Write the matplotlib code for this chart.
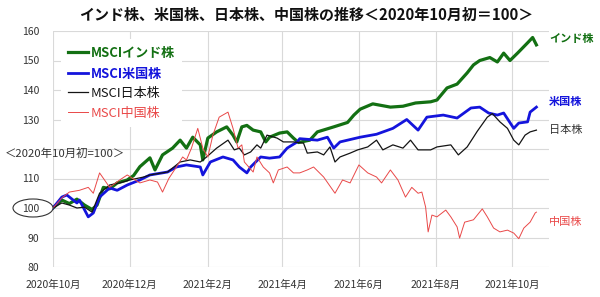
import matplotlib
matplotlib.use("Agg")
import matplotlib.pyplot as plt
from matplotlib.patches import Ellipse
import pandas as pd

plt.rcParams['font.family'] = ['Noto Sans CJK JP', 'DejaVu Sans']

# MSCI indices rebased to 100 at the start of Oct 2020
india_dates = ["2020-10-01", "2020-10-08", "2020-10-14", "2020-10-20", "2020-10-26", "2020-11-01",
               "2020-11-05", "2020-11-10", "2020-11-15", "2020-11-21", "2020-11-29", "2020-12-04",
               "2020-12-09", "2020-12-17", "2020-12-21", "2020-12-27", "2021-01-04", "2021-01-10",
               "2021-01-15", "2021-01-20", "2021-01-26", "2021-01-28", "2021-02-01", "2021-02-08",
               "2021-02-16", "2021-02-21", "2021-02-24", "2021-02-28", "2021-03-04", "2021-03-09",
               "2021-03-15", "2021-03-19", "2021-03-22", "2021-03-30", "2021-04-05", "2021-04-10",
               "2021-04-14", "2021-04-23", "2021-04-29", "2021-05-12", "2021-05-23", "2021-05-28",
               "2021-06-02", "2021-06-12", "2021-06-26", "2021-07-06", "2021-07-16", "2021-07-28",
               "2021-08-02", "2021-08-10", "2021-08-18", "2021-08-26", "2021-08-31", "2021-09-05",
               "2021-09-13", "2021-09-19", "2021-09-24", "2021-09-29", "2021-10-05", "2021-10-13",
               "2021-10-17", "2021-10-20"]
india = [100, 102.7, 101.5, 103, 101, 99.5,
         101, 107, 106.5, 108.5, 109.5, 111,
         114, 117, 112.9, 118, 120.3, 123,
         120.3, 124, 121.4, 116.3, 123.7, 125.8,
         127.5, 124.7, 122.4, 127.5, 128, 126.4,
         125.8, 122.4, 124, 125.4, 125.8, 123.7,
         122.2, 123, 125.8, 127.5, 129, 131.5,
         133.5, 135.3, 134.2, 134.5, 135.6, 136,
         136.6, 140.7, 142, 145.8, 148.5, 150,
         151, 149.5, 152.5, 150, 152.5, 156,
         157.8, 155.3]

us_dates = ["2020-10-01", "2020-10-08", "2020-10-12", "2020-10-20", "2020-10-22", "2020-10-29",
            "2020-11-02", "2020-11-07", "2020-11-15", "2020-11-21", "2020-11-29", "2020-12-09",
            "2020-12-17", "2020-12-31", "2021-01-07", "2021-01-15", "2021-01-26", "2021-01-28",
            "2021-02-03", "2021-02-13", "2021-02-21", "2021-02-26", "2021-03-04", "2021-03-07",
            "2021-03-15", "2021-03-22", "2021-03-30", "2021-04-05", "2021-04-13", "2021-04-15",
            "2021-04-29", "2021-05-07", "2021-05-12", "2021-05-17", "2021-06-02", "2021-06-15",
            "2021-06-28", "2021-07-09", "2021-07-18", "2021-07-25", "2021-08-07", "2021-08-18",
            "2021-08-29", "2021-09-05", "2021-09-12", "2021-09-19", "2021-09-24", "2021-10-02",
            "2021-10-06", "2021-10-13", "2021-10-15", "2021-10-20"]
us = [100, 103.7, 104.4, 101.7, 102.7, 97,
      98.3, 103.7, 106.8, 106, 107.8, 109.5,
      111.2, 112.2, 113.9, 114.6, 113.9, 111.2,
      115.6, 117.3, 116.3, 113.9, 111.9, 113.9,
      117.3, 116.9, 117.3, 120.3, 122.4, 123.5,
      123, 124, 120.3, 122.4, 124, 125,
      127, 130, 126.4, 130.8, 131.5, 130.5,
      133.9, 134.2, 132.2, 131.5, 132.2, 127,
      128.8, 129.2, 132.5, 134.2]

japan_dates = ["2020-10-01", "2020-10-08", "2020-10-14", "2020-10-20", "2020-10-26", "2020-11-01",
               "2020-11-07", "2020-11-15", "2020-11-23", "2020-12-01", "2020-12-12", "2020-12-17",
               "2020-12-31", "2021-01-10", "2021-01-18", "2021-01-26", "2021-01-31", "2021-02-08",
               "2021-02-17", "2021-02-22", "2021-02-26", "2021-03-02", "2021-03-07", "2021-03-12",
               "2021-03-15", "2021-03-20", "2021-03-28", "2021-04-02", "2021-04-10", "2021-04-18",
               "2021-04-21", "2021-04-29", "2021-05-04", "2021-05-09", "2021-05-13", "2021-05-17",
               "2021-05-25", "2021-05-31", "2021-06-08", "2021-06-15", "2021-06-20", "2021-06-28",
               "2021-07-06", "2021-07-12", "2021-07-18", "2021-07-28", "2021-08-02", "2021-08-13",
               "2021-08-19", "2021-08-26", "2021-08-31", "2021-09-03", "2021-09-11", "2021-09-15",
               "2021-09-21", "2021-09-27", "2021-10-02", "2021-10-06", "2021-10-11", "2021-10-15",
               "2021-10-20"]
japan = [100, 101.7, 101, 100, 100.3, 98.6,
         105, 107.8, 108.5, 109.5, 110.5, 111.2,
         112.2, 115.6, 116.3, 115.6, 117.3, 120.3,
         123, 119.7, 120.3, 118, 119, 121.4,
         120.3, 124.7, 123.7, 122.4, 122.4, 122,
         118.6, 119, 118, 120.7, 115.6, 117.3,
         118.6, 119.7, 120.7, 123, 119.7, 121.4,
         120.3, 123, 119.7, 119.7, 120.7, 121.4,
         118, 120.7, 124, 126, 130.8, 132,
         129.2, 127, 123, 121.4, 124.7, 125.8,
         126.4]

china_dates = ["2020-10-01", "2020-10-08", "2020-10-14", "2020-10-22", "2020-10-29", "2020-11-02",
               "2020-11-07", "2020-11-15", "2020-11-23", "2020-11-29", "2020-12-09", "2020-12-17",
               "2020-12-23", "2020-12-27", "2021-01-01", "2021-01-07", "2021-01-12", "2021-01-15",
               "2021-01-19", "2021-01-24", "2021-01-28", "2021-02-01", "2021-02-05", "2021-02-10",
               "2021-02-17", "2021-02-21", "2021-02-25", "2021-02-28", "2021-03-02", "2021-03-09",
               "2021-03-12", "2021-03-17", "2021-03-22", "2021-03-25", "2021-03-29", "2021-04-05",
               "2021-04-10", "2021-04-15", "2021-04-21", "2021-04-26", "2021-05-04", "2021-05-13",
               "2021-05-19", "2021-05-25", "2021-06-01", "2021-06-08", "2021-06-15", "2021-06-19",
               "2021-06-26", "2021-07-02", "2021-07-08", "2021-07-13", "2021-07-18", "2021-07-21",
               "2021-07-24", "2021-07-26", "2021-07-29", "2021-08-02", "2021-08-09", "2021-08-13",
               "2021-08-18", "2021-08-20", "2021-08-24", "2021-08-31", "2021-09-07", "2021-09-11",
               "2021-09-16", "2021-09-21", "2021-09-27", "2021-10-02", "2021-10-06", "2021-10-10",
               "2021-10-15", "2021-10-19", "2021-10-20"]
china = [100, 103.4, 105.4, 106, 107, 105,
         111.9, 107, 109.5, 111.2, 108.5, 109.5,
         108.8, 105.4, 110, 113.9, 117.3, 116.3,
         120.3, 127, 120.3, 117.3, 124.7, 130.8,
         132.5, 127, 120.3, 121.4, 115.6, 112.2,
         117.3, 113.9, 111.9, 108.5, 112.9, 113.9,
         111.9, 111.9, 112.9, 113.9, 110.5, 105,
         109.5, 108.5, 114.6, 111.9, 110.5, 108.5,
         112.9, 109.5, 103.7, 107, 105, 105.4,
         100.3, 91.9, 97.6, 97, 99.3, 97,
         93.6, 89.8, 95.2, 96, 99.7, 97,
         93.2, 91.9, 92.5, 91.5, 89.6, 93.2,
         95.2, 98.3, 98.6]

y_ticks = [80, 90, 100, 110, 120, 130, 140, 150, 160]
# the 120 label is replaced by the base-date note in the original
y_tick_labels = ["80", "90", "100", "110", "", "130", "140", "150", "160"]
x_ticks = ["2020-10-01", "2020-12-01", "2021-02-01", "2021-04-01", "2021-06-01", "2021-08-01", "2021-10-01"]
x_tick_labels = ["2020年10月", "2020年12月", "2021年2月", "2021年4月", "2021年6月", "2021年8月", "2021年10月"]

green = "#137013"
blue = "#1414dc"
black = "#141414"
red = "#e94848"

fig = plt.figure(figsize=(6, 2.97), dpi=100)
ax = fig.add_axes([53 / 600, 1 - 267 / 297, 496 / 600, 236 / 297])

ax.plot(pd.to_datetime(india_dates), india, color=green, lw=2.3, label="MSCIインド株", zorder=3)
ax.plot(pd.to_datetime(us_dates), us, color=blue, lw=2.0, label="MSCI米国株", zorder=4)
ax.plot(pd.to_datetime(japan_dates), japan, color=black, lw=0.9, label="MSCI日本株", zorder=5)
ax.plot(pd.to_datetime(china_dates), china, color=red, lw=0.7, label="MSCI中国株", zorder=6)

ax.set_ylim(80, 160)
ax.set_xlim(pd.Timestamp("2020-10-01"), pd.Timestamp("2021-10-30"))
ax.set_yticks(y_ticks)
ax.set_yticklabels(y_tick_labels)
ax.set_xticks(pd.to_datetime(x_ticks))
ax.set_xticklabels(x_tick_labels)
ax.tick_params(length=0, labelsize=7.5, labelcolor="#333333")
ax.tick_params(axis="y", pad=10)
ax.tick_params(axis="x", pad=9)
ax.grid(True, color="#d9d9d9", lw=0.8)
ax.set_axisbelow(True)
for s in ax.spines.values():
    s.set_visible(False)

leg = ax.legend(loc="upper left", fontsize=9.4, frameon=True, framealpha=1, edgecolor="none",
                handlelength=1.55, handletextpad=0.2, labelspacing=0.5,
                borderpad=0.55, borderaxespad=0.6)
for txt, col, bold in zip(leg.get_texts(), [green, blue, black, red], [True, True, False, False]):
    txt.set_color(col)
    if bold:
        txt.set_fontweight("bold")

# end labels on the right
tr = ax.get_yaxis_transform()
ax.text(1.0, 157.3, "インド株", transform=tr, color=green, fontsize=8, fontweight="bold", va="center", clip_on=False)
ax.text(1.0, 136.0, "米国株", transform=tr, color=blue, fontsize=8, fontweight="bold", va="center", clip_on=False)
ax.text(1.0, 126.4, "日本株", transform=tr, color="#333333", fontsize=8, va="center", clip_on=False)
ax.text(1.0, 95.3, "中国株", transform=tr, color=red, fontsize=8, va="center", clip_on=False)

fig.text(0.51, 1 - 15 / 297, "インド株、米国株、日本株、中国株の推移＜2020年10月初＝100＞",
         ha="center", va="center", fontsize=10.8, fontweight="bold", color="#111111")
fig.text(5 / 600, 1 - 153 / 297, "＜2020年10月初=100＞", ha="left", va="center",
         fontsize=8.2, color="#333333")
fig.add_artist(Ellipse((33 / 600, 1 - 208 / 297), 40 / 600, 18 / 297, transform=fig.transFigure,
                       fill=False, edgecolor="#333333", lw=0.8))

fig.savefig("out.png", dpi=100)
